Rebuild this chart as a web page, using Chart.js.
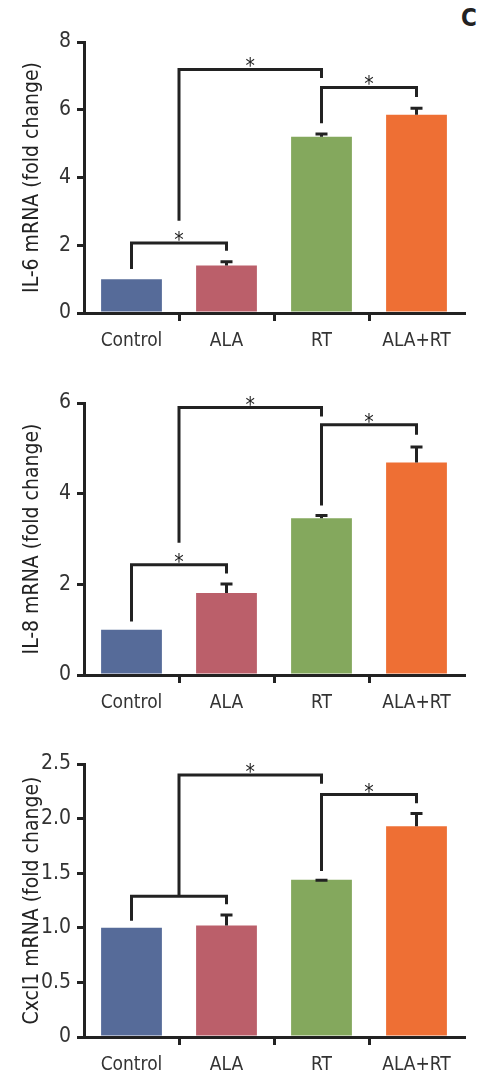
<!DOCTYPE html>
<html>
<head>
<meta charset="utf-8">
<script src="https://cdn.jsdelivr.net/npm/chart.js@4"></script>
<style>
  html, body { margin: 0; padding: 0; background: #fff; overflow: hidden; }
  #wrap { position: relative; width: 477px; height: 1074px; }
  .panel { position: absolute; left: 0; width: 477px; }
  #label { position: absolute; left: 461px; top: 4px; font: bold 24px "DejaVu Sans Condensed", "Liberation Sans Narrow", sans-serif; color: #222; }
</style>
</head>
<body>
<div id="wrap">
  <div id="label">C</div>
  <div class="panel" style="top:0;height:358px"><canvas id="c1"></canvas></div>
  <div class="panel" style="top:358px;height:360px"><canvas id="c2"></canvas></div>
  <div class="panel" style="top:718px;height:356px"><canvas id="c3"></canvas></div>
</div>
<script>
'use strict';

// groups
const categories = ['Control', 'ALA', 'RT', 'ALA+RT'];

// IL-6
const il6Mean = [1.0, 1.4, 5.2, 5.85];
const il6Err = [0, 0.16, 0.13, 0.24];
const il6Ticks = [0, 2, 4, 6, 8];
// bracket: [from, to, top, left bottom, right bottom, mark]
const il6Brackets = [
  [0, 1, 2.07, 1.3, 1.84, '*'],
  [0.5, 2, 7.19, 2.72, 6.94, '*'],
  [2, 3, 6.66, 5.6, 6.38, '*']
];

// IL-8
const il8Mean = [1.0, 1.81, 3.46, 4.69];
const il8Err = [0, 0.23, 0.09, 0.37];
const il8Ticks = [0, 2, 4, 6];
const il8Brackets = [
  [0, 1, 2.43, 1.18, 2.24, '*'],
  [0.5, 2, 5.9, 2.92, 5.7, '*'],
  [2, 3, 5.52, 3.74, 5.3, '*']
];

// Cxcl1
const cxcl1Mean = [1.0, 1.02, 1.44, 1.93];
const cxcl1Err = [0, 0.11, 0.01, 0.13];
const cxcl1Ticks = [0, 0.5, 1.0, 1.5, 2.0, 2.5];
const cxcl1Brackets = [
  [0, 1, 1.29, 1.065, 1.215, ''],
  [0.5, 2, 2.4, 1.29, 2.32, '*'],
  [2, 3, 2.22, 1.52, 2.14, '*']
];

const barColors = ['#566b99', '#bb5f6a', '#84a85d', '#ee6f34'];
const ink = '#222';
const FONT = '"DejaVu Sans Condensed", "Liberation Sans Narrow", sans-serif';

Chart.defaults.font.family = FONT;
Chart.defaults.color = '#333';

// error bars (upper half) and significance brackets
const marks = {
  id: 'marks',
  afterDatasetsDraw(chart, args, opts) {
    const { ctx, scales: { x, y } } = chart;
    ctx.save();
    ctx.strokeStyle = ink;
    ctx.lineWidth = 3;
    ctx.lineCap = 'butt';
    ctx.lineJoin = 'miter';

    opts.mean.forEach((m, i) => {
      const e = opts.err[i];
      if (!e) return;
      const px = x.getPixelForValue(i);
      const y0 = y.getPixelForValue(m);
      const y1 = y.getPixelForValue(m + e);
      ctx.beginPath();
      ctx.moveTo(px, y0);
      ctx.lineTo(px, y1);
      ctx.moveTo(px - 6, y1 + 1.5);
      ctx.lineTo(px + 6, y1 + 1.5);
      ctx.stroke();
    });

    ctx.fillStyle = ink;
    ctx.font = '21px ' + FONT;
    ctx.textAlign = 'center';
    ctx.textBaseline = 'alphabetic';
    opts.brackets.forEach(b => {
      const xa = x.getPixelForValue(b[0]);
      const xb = x.getPixelForValue(b[1]);
      const top = y.getPixelForValue(b[2]);
      ctx.beginPath();
      ctx.moveTo(xa, y.getPixelForValue(b[3]));
      ctx.lineTo(xa, top);
      ctx.lineTo(xb, top);
      ctx.lineTo(xb, y.getPixelForValue(b[4]));
      ctx.stroke();
      if (b[5]) ctx.fillText(b[5], (xa + xb) / 2, top + 4);
    });
    ctx.restore();
  }
};

function makeChart(id, mean, err, brackets, ticks, title, padTop, xHeight, fmt) {
  const yMax = ticks[ticks.length - 1];
  return new Chart(document.getElementById(id), {
    type: 'bar',
    data: {
      labels: categories,
      datasets: [{
        data: mean,
        backgroundColor: barColors,
        borderWidth: 0,
        barPercentage: 0.64,
        categoryPercentage: 1
      }]
    },
    options: {
      responsive: true,
      maintainAspectRatio: false,
      animation: false,
      events: [],
      layout: { padding: { top: padTop, right: 13, left: 0, bottom: 0 } },
      plugins: {
        legend: { display: false },
        tooltip: { enabled: false },
        marks: { mean: mean, err: err, brackets: brackets }
      },
      scales: {
        x: {
          afterFit(s) { s.height = xHeight; },
          border: { display: true, color: ink, width: 3 },
          grid: {
            drawOnChartArea: false,
            tickLength: 8,
            lineWidth: 3,
            color: c => (c.index === undefined || c.index === 0) ? 'rgba(0,0,0,0)' : ink
          },
          ticks: { font: { size: 19 }, color: '#333', padding: 9 }
        },
        y: {
          min: 0,
          max: yMax,
          afterFit(s) { s.width = 84; },
          afterBuildTicks(s) { s.ticks = ticks.map(v => ({ value: v })); },
          border: { display: true, color: ink, width: 3 },
          grid: { drawOnChartArea: false, tickLength: 7, lineWidth: 3, color: ink },
          ticks: { font: { size: 21 }, color: '#333', padding: 6, callback: fmt },
          title: {
            display: true,
            text: title,
            font: { size: 21 },
            color: '#222',
            padding: { top: 20, bottom: 0 }
          }
        }
      }
    },
    plugins: [marks]
  });
}

const intFmt = v => String(v);
const decFmt = v => v === 0 ? '0' : Number(v).toFixed(1);

makeChart('c1', il6Mean, il6Err, il6Brackets, il6Ticks, 'IL-6 mRNA (fold change)', 42, 45, intFmt);
makeChart('c2', il8Mean, il8Err, il8Brackets, il8Ticks, 'IL-8 mRNA (fold change)', 45, 43, intFmt);
makeChart('c3', cxcl1Mean, cxcl1Err, cxcl1Brackets, cxcl1Ticks, 'Cxcl1 mRNA (fold change)', 46, 37, decFmt);
</script>
</body>
</html>
